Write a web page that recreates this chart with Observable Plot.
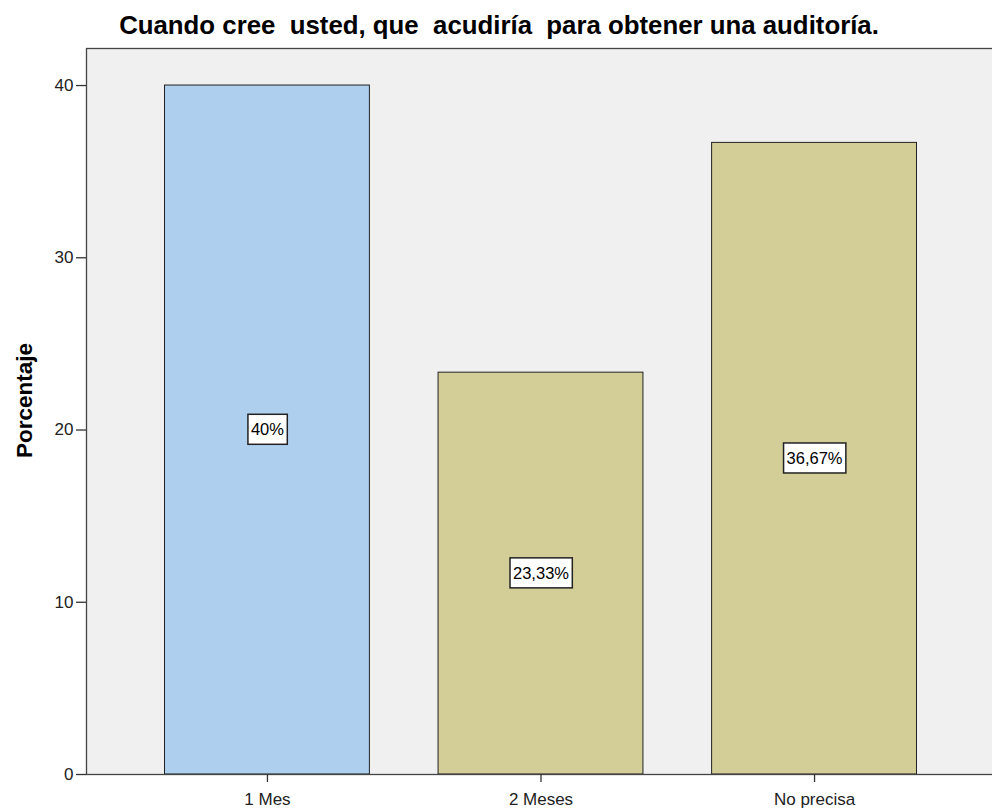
<!DOCTYPE html>
<html>
<head>
<meta charset="utf-8">
<script src="https://cdn.jsdelivr.net/npm/d3@7"></script>
<script src="https://cdn.jsdelivr.net/npm/@observablehq/plot@0.6"></script>
<style>
  html, body { margin: 0; padding: 0; background: #fff; overflow: hidden; }
  #wrap { width: 992px; height: 809px; overflow: hidden; font-family: "Liberation Sans", Arial, sans-serif; }
  #title { height: 40px; box-sizing: border-box; padding-top: 13px; width: 998px; text-align: center; font-weight: bold; font-size: 25.8px; line-height: 25.8px; color: #000; white-space: pre; }
  #chart svg { display: block; max-width: none !important; }
</style>
</head>
<body>
<div id="wrap">
  <div id="title">Cuando cree  usted, que  acudiría  para obtener una auditoría.</div>
  <div id="chart"></div>
</div>
<script>
const categories = ["1 Mes", "2 Meses", "No precisa"];
const percentages = [40, 23.33, 36.67];
const valueLabels = ["40%", "23,33%", "36,67%"];
const barColors = ["#aed0ee", "#d3ce97", "#d3ce97"];
const yTicks = [0, 10, 20, 30, 40];
const yLabel = "Porcentaje";
const yMax = 42.15;

const data = categories.map((c, i) => ({
  cat: c, value: percentages[i], label: valueLabels[i], color: barColors[i]
}));

const font = '"Liberation Sans", Arial, sans-serif';

const plot = Plot.plot({
  width: 995,
  height: 769,
  marginTop: 8,
  marginBottom: 35,
  marginLeft: 86,
  marginRight: 0,
  style: { fontFamily: font, fontSize: "17px", color: "#222", background: "transparent", maxWidth: "none" },
  x: { domain: categories, paddingInner: 0.251, paddingOuter: 0.287, round: false, label: null },
  y: { domain: [0, yMax], label: null },
  marks: [
    Plot.frame({ fill: "#f0f0f0", stroke: null }),
    Plot.barY(data, { x: "cat", y: "value", fill: "color", stroke: "#222", strokeWidth: 1 }),
    Plot.frame({ stroke: "#444", strokeWidth: 1.3 }),
    Plot.axisY({ ticks: yTicks, tickSize: 10, tickPadding: 3, tickFormat: d => String(d), label: null, fontSize: 17, stroke: "#333", strokeWidth: 1.3 }),
    Plot.axisX({ tickSize: 8, tickPadding: 10, label: null, fontSize: 17, stroke: "#333", strokeWidth: 1.3 }),
    Plot.text(data, { x: "cat", y: d => d.value / 2, text: "label", fill: "#000", fontSize: 16.5, className: "vlabels" }),
    Plot.text([yLabel], { frameAnchor: "left", textAnchor: "middle", rotate: -90, dx: -62, dy: -11, fontWeight: "bold", fontSize: 22.5, fill: "#000" })
  ]
});

document.getElementById("chart").appendChild(plot);

// white boxes behind the value labels, sized to the rendered text
d3.select(plot).selectAll("g.vlabels text").each(function () {
  const b = this.getBBox();
  const t = this.getAttribute("transform");
  const r = document.createElementNS("http://www.w3.org/2000/svg", "rect");
  r.setAttribute("x", b.x - 3);
  r.setAttribute("y", b.y - 6);
  r.setAttribute("width", b.width + 6);
  r.setAttribute("height", b.height + 12);
  r.setAttribute("fill", "#fff");
  r.setAttribute("stroke", "#222");
  r.setAttribute("stroke-width", "1.5");
  if (t) r.setAttribute("transform", t);
  this.parentNode.insertBefore(r, this);
});
</script>
</body>
</html>
